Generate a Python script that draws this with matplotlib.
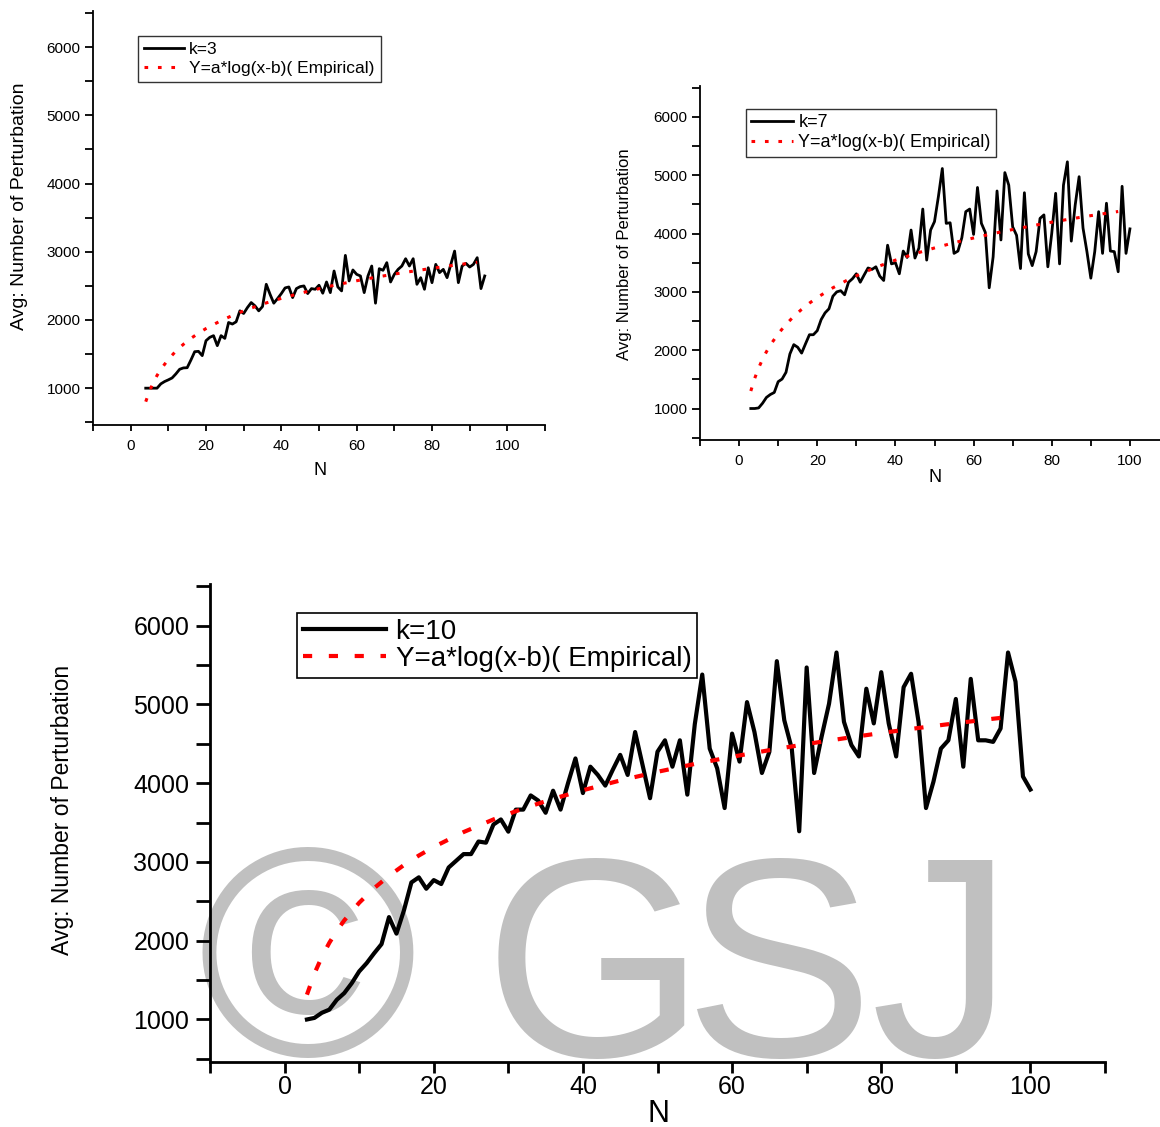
import matplotlib
matplotlib.use('Agg')
import matplotlib.pyplot as plt
from matplotlib.ticker import MultipleLocator

plt.rcParams['font.family'] = ['Liberation Sans', 'DejaVu Sans']

W, H = 1160, 1127

# ---------------- data ----------------
n3 = list(range(4, 95))
k3 = [1000, 1000, 1000, 1000, 1063, 1097, 1122, 1150, 1209, 1277, 1297, 1300, 1413, 1535, 1540, 1477,
      1696, 1745, 1770, 1623, 1770, 1730, 1963, 1940, 1973, 2134, 2095, 2182, 2255, 2207, 2134, 2197,
      2523, 2377, 2246, 2314, 2387, 2470, 2484, 2328, 2460, 2489, 2499, 2387, 2460, 2450, 2509, 2392,
      2557, 2401, 2718, 2484, 2426, 2947, 2572, 2733, 2669, 2645, 2401, 2645, 2791, 2246, 2752, 2728,
      2840, 2557, 2669, 2742, 2791, 2898, 2791, 2898, 2523, 2620, 2450, 2766, 2547, 2815, 2694, 2742,
      2620, 2815, 3010, 2547, 2791, 2830, 2776, 2815, 2913, 2460, 2645]
fit3_x = [4, 5, 6, 7, 8, 10, 12, 14, 16, 18, 20, 24, 28, 32, 36, 40, 45, 50, 55, 60, 65, 70, 75, 80, 85, 90, 92]
fit3_y = [802, 957, 1082, 1186, 1275, 1423, 1543, 1643, 1730, 1806, 1874, 1991, 2090, 2175, 2250, 2317,
          2392, 2459, 2520, 2575, 2626, 2673, 2716, 2757, 2796, 2832, 2846]

n7 = list(range(3, 101))
k7 = [1000, 1000, 1010, 1090, 1190, 1240, 1275, 1460, 1505, 1620, 1935, 2095, 2050, 1950, 2110, 2265,
      2265, 2335, 2525, 2640, 2710, 2925, 3000, 3020, 2950, 3165, 3225, 3310, 3165, 3290, 3410, 3385,
      3430, 3270, 3195, 3800, 3480, 3500, 3310, 3700, 3590, 4060, 3580, 3750, 4420, 3545, 4060, 4205,
      4635, 5115, 4175, 4185, 3660, 3700, 3930, 4375, 4420, 3985, 4790, 4175, 4020, 3070, 3600, 4730,
      3890, 5045, 4830, 4115, 3970, 3400, 4700, 3650, 3450, 3690, 4260, 4320, 3430, 4005, 4690, 3480,
      4830, 5230, 3870, 4490, 4975, 4095, 3690, 3235, 3690, 4375, 3660, 4520, 3700, 3690, 3345, 4810,
      3660, 4080]
fit7_x = [3, 4, 5, 6, 7, 8, 10, 12, 14, 16, 18, 20, 24, 28, 32, 36, 40, 45, 50, 55, 60, 65, 70, 75, 80, 85, 90, 95, 97]
fit7_y = [1300, 1518, 1695, 1845, 1974, 2088, 2281, 2442, 2580, 2700, 2807, 2903, 3070, 3213, 3336, 3446,
          3544, 3654, 3753, 3843, 3924, 4000, 4069, 4134, 4195, 4253, 4307, 4358, 4378]

n10 = list(range(3, 101))
k10 = [1000, 1020, 1085, 1125, 1250, 1335, 1460, 1610, 1715, 1840, 1957, 2300, 2090, 2385, 2740, 2805,
       2660, 2770, 2720, 2930, 3015, 3100, 3100, 3260, 3245, 3475, 3540, 3385, 3665, 3665, 3845, 3780,
       3625, 3905, 3665, 4000, 4315, 3875, 4210, 4105, 3970, 4170, 4360, 4105, 4650, 4230, 3810, 4400,
       4545, 4210, 4545, 3855, 4750, 5380, 4440, 4190, 3685, 4630, 4275, 5030, 4650, 4130, 4400, 5550,
       4800, 4440, 3390, 5470, 4130, 4590, 5010, 5660, 4780, 4485, 4340, 5200, 4760, 5410, 4760, 4340,
       5220, 5390, 4780, 3685, 4020, 4440, 4545, 5070, 4210, 5325, 4545, 4545, 4525, 4695, 5660, 5290,
       4085, 3920]
fit10_x = [3, 4, 5, 6, 7, 8, 10, 12, 14, 16, 18, 20, 24, 28, 32, 36, 40, 45, 50, 55, 60, 65, 70, 75, 80, 85, 90, 95, 97]
fit10_y = [1315, 1583, 1796, 1974, 2126, 2258, 2482, 2667, 2824, 2961, 3082, 3191, 3380, 3540, 3679, 3802,
           3911, 4035, 4145, 4245, 4336, 4420, 4498, 4570, 4638, 4702, 4762, 4819, 4840]

xticks = [0, 20, 40, 60, 80, 100]
yticks = [1000, 2000, 3000, 4000, 5000, 6000]
ylabel = 'Avg: Number of Perturbation'
fit_label = 'Y=a*log(x-b)( Empirical)'
watermark = ['\u00a9', 'G', 'S', 'J']

# ---------------- figure ----------------
fig = plt.figure(figsize=(W / 100, H / 100), dpi=100)


def rect(l, t, r, b):
    return [l / W, 1 - b / H, (r - l) / W, (b - t) / H]


def style(ax, fs, spine_lw, xlen, ylen, xpad, ypad):
    for s in ['top', 'right']:
        ax.spines[s].set_visible(False)
    for s in ['left', 'bottom']:
        ax.spines[s].set_linewidth(spine_lw)
    ax.set_xlim(-10, 110)
    ax.set_ylim(460, 6530)
    ax.set_xticks(xticks)
    ax.set_yticks(yticks)
    ax.xaxis.set_minor_locator(MultipleLocator(10))
    ax.yaxis.set_minor_locator(MultipleLocator(500))
    ax.tick_params(axis='x', which='both', direction='out', length=xlen, width=spine_lw,
                   labelsize=fs, pad=xpad)
    ax.tick_params(axis='y', which='both', direction='out', length=ylen, width=spine_lw,
                   labelsize=fs, pad=ypad)


# top-left (k=3)
ax1 = fig.add_axes(rect(93, 11, 545, 425))
style(ax1, 11, 1.3, 4, 6, 6, 3)
l1, = ax1.plot(n3, k3, color='black', lw=2.0, label='k=3', zorder=3)
f1, = ax1.plot(fit3_x, fit3_y, color='red', lw=2.2, dashes=(1.2, 3.2), label=fit_label, zorder=4)
ax1.legend(handles=[l1, f1], loc='upper left', bbox_to_anchor=(138 / W, 1 - 36 / H),
           bbox_transform=fig.transFigure, borderaxespad=0, fontsize=12.5, frameon=True,
           fancybox=False, edgecolor='black', handlelength=2.3, handletextpad=0.3,
           borderpad=0.35, labelspacing=0.2).get_frame().set_linewidth(1.0)
fig.text(20 / W, 1 - 206 / H, ylabel, rotation=90, ha='center', va='center', fontsize=14)
fig.text(320 / W, 1 - 470 / H, 'N', ha='center', va='center', fontsize=13)

# top-right (k=7)
ax2 = fig.add_axes(rect(700, 86, 1169, 440))
style(ax2, 11, 1.3, 4, 6, 6, 3)
l2, = ax2.plot(n7, k7, color='black', lw=2.0, label='k=7', zorder=3)
f2, = ax2.plot(fit7_x, fit7_y, color='red', lw=2.2, dashes=(1.2, 3.2), label=fit_label, zorder=4)
ax2.legend(handles=[l2, f2], loc='upper left', bbox_to_anchor=(746 / W, 1 - 109 / H),
           bbox_transform=fig.transFigure, borderaxespad=0, fontsize=13, frameon=True,
           fancybox=False, edgecolor='black', handlelength=2.3, handletextpad=0.3,
           borderpad=0.3, labelspacing=0.15).get_frame().set_linewidth(1.0)
fig.text(624 / W, 1 - 254 / H, ylabel, rotation=90, ha='center', va='center', fontsize=12)
fig.text(935 / W, 1 - 477 / H, 'N', ha='center', va='center', fontsize=13)

# bottom (k=10)
ax3 = fig.add_axes(rect(210, 584, 1105, 1062))
style(ax3, 18, 2.0, 8, 10, 1, 5)
wm_x = [307, 594, 778, 942]
wm_size = [215, 205, 205, 205]
for ch, cx, fs in zip(watermark, wm_x, wm_size):
    ax3.text(cx / W, 1 - 1056 / H, ch, transform=fig.transFigure, fontsize=fs,
             color='#c0c0c0', ha='center', va='baseline', zorder=0.5, clip_on=False)
l3, = ax3.plot(n10, k10, color='black', lw=3.0, label='k=10', zorder=3)
f3, = ax3.plot(fit10_x, fit10_y, color='red', lw=3.0, dashes=(2.2, 4.0), label=fit_label, zorder=4)
leg3 = ax3.legend(handles=[l3, f3], loc='upper left', bbox_to_anchor=(297 / W, 1 - 613 / H),
                  bbox_transform=fig.transFigure, borderaxespad=0, fontsize=20, frameon=True,
                  fancybox=False, edgecolor='black', handlelength=3.0, handletextpad=0.35,
                  borderpad=0.2, labelspacing=0.05, framealpha=1)
leg3.get_frame().set_linewidth(1.2)
fig.text(63 / W, 1 - 810 / H, ylabel, rotation=90, ha='center', va='center', fontsize=16.5)
fig.text(658 / W, 1 - 1114 / H, 'N', ha='center', va='center', fontsize=22)

fig.savefig('out.png', dpi=100)
